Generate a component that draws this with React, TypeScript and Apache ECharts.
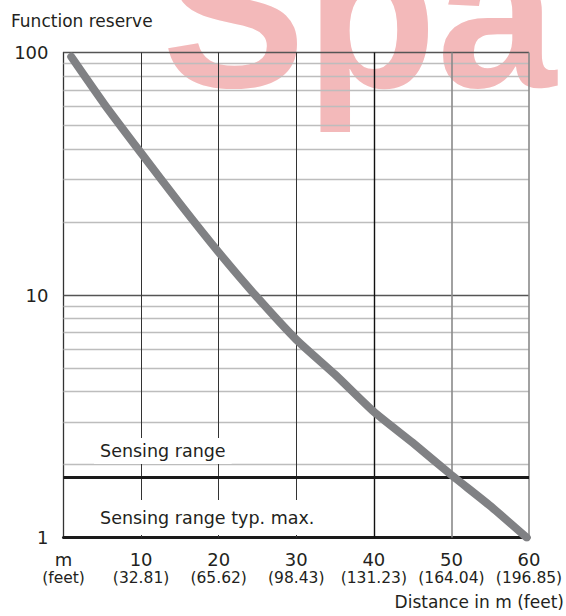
import React, { useEffect, useRef } from "react";
import * as echarts from "echarts";

// ---- data ----
const xTicks = [0, 10, 20, 30, 40, 50, 60];
const xTickMeters = ["m", "10", "20", "30", "40", "50", "60"];
const xTickFeet = ["(feet)", "(32.81)", "(65.62)", "(98.43)", "(131.23)", "(164.04)", "(196.85)"];
const yTicks = [1, 10, 100];
const distanceM = [1.0, 5.3, 10, 15, 20, 24.7, 30, 35, 40, 45, 50, 55, 59.7];
const functionReserve = [96, 61, 38.5, 23.8, 15.0, 10, 6.55, 4.7, 3.3, 2.46, 1.81, 1.35, 1.0];
const minorGridValues = [2, 3, 4, 5, 6, 7, 8, 9, 20, 30, 40, 50, 60, 70, 80, 90];
const sensingRangeLevel = 1.78;
const annotationTexts = ["Sensing range", "Sensing range typ. max."];
const yTitle = "Function reserve";
const xTitle = "Distance in m (feet)";
const watermark = "Spa";

const FONT = "DejaVu Sans";
const INK = "#231f20";

export default function App() {
  const ref = useRef<HTMLDivElement>(null);

  useEffect(() => {
    if (!ref.current) return;
    const chart = echarts.init(ref.current, undefined, { renderer: "svg" });

    const noSym: any = ["none", "none"];
    const vLine = (x: number, color: string, width: number) => ({
      xAxis: x,
      lineStyle: { color, width, type: "solid" },
    });
    const hLine = (y: number, color: string, width: number) => ({
      yAxis: y,
      lineStyle: { color, width, type: "solid" },
    });

    const option: any = {
      animation: false,
      textStyle: { fontFamily: FONT },
      title: [
        {
          text: yTitle,
          left: 11,
          top: 12,
          padding: 0,
          textStyle: { fontSize: 17, fontWeight: "normal", color: INK, fontFamily: FONT },
        },
        {
          text: xTitle,
          right: 2,
          top: 593,
          padding: 0,
          textStyle: { fontSize: 17, fontWeight: "normal", color: INK, fontFamily: FONT },
        },
      ],
      graphic: [
        {
          type: "text",
          z: -10,
          silent: true,
          x: 162,
          y: 12,
          style: {
            text: watermark,
            font: 'bold 215px "Liberation Sans"',
            fill: "#f3b9ba",
            align: "left",
            verticalAlign: "middle",
          },
        },
      ],
      grid: { left: 63.5, right: 37, top: 52.5, bottom: 78.5 },
      xAxis: {
        type: "value",
        min: 0,
        max: 60,
        interval: 10,
        axisLine: { show: true, lineStyle: { color: "#1a1a1a", width: 3 } },
        axisTick: { show: false },
        splitLine: { show: false },
        axisLabel: {
          margin: 12,
          showMinLabel: true,
          showMaxLabel: true,
          color: INK,
          fontFamily: FONT,
          formatter: (v: number) => {
            const i = xTicks.indexOf(v);
            if (i < 0) return "";
            return `{a|${xTickMeters[i]}}\n{b|${xTickFeet[i]}}`;
          },
          rich: {
            a: { fontSize: 18, lineHeight: 19, color: INK, fontFamily: FONT },
            b: { fontSize: 15.5, lineHeight: 19.6, color: INK, fontFamily: FONT },
          },
        },
      },
      yAxis: {
        type: "log",
        logBase: 10,
        min: 1,
        max: 100,
        axisLine: { show: true, lineStyle: { color: "#333", width: 1.3 } },
        axisTick: { show: false },
        splitLine: { show: false },
        minorTick: { show: false },
        minorSplitLine: { show: false },
        axisLabel: {
          margin: 15,
          fontSize: 18,
          color: INK,
          fontFamily: FONT,
          formatter: (v: number) => (yTicks.indexOf(v) >= 0 ? String(v) : ""),
        },
      },
      series: [
        {
          name: "minor",
          type: "line",
          data: [],
          z: 1,
          silent: true,
          markLine: {
            silent: true,
            symbol: noSym,
            label: { show: false },
            data: minorGridValues.map((v) => hLine(v, "#bdbdbd", 1.3)),
          },
        },
        {
          name: "major",
          type: "line",
          data: [],
          z: 2,
          silent: true,
          markLine: {
            silent: true,
            symbol: noSym,
            label: { show: false },
            data: [
              hLine(10, "#555", 1.3),
              hLine(100, "#555", 1.3),
              vLine(10, "#333", 1),
              vLine(20, "#333", 1),
              vLine(30, "#333", 1),
              vLine(40, "#111", 1.4),
              vLine(50, "#8a8a8a", 1.6),
              vLine(60, "#8a8a8a", 1.6),
            ],
          },
        },
        {
          name: "labels",
          type: "line",
          data: [],
          z: 3,
          silent: true,
          markPoint: {
            silent: true,
            symbol: "circle",
            symbolSize: 1,
            itemStyle: { color: "rgba(0,0,0,0)" },
            data: [
              {
                coord: [3.87, 2.274],
                label: {
                  show: true,
                  position: "right",
                  distance: 0,
                  formatter: annotationTexts[0],
                  fontSize: 17.5,
                  lineHeight: 18,
                  fontFamily: FONT,
                  color: INK,
                  backgroundColor: "#fff",
                  padding: [4, 6, 4, 6],
                },
              },
              {
                coord: [3.87, 1.209],
                label: {
                  show: true,
                  position: "right",
                  distance: 0,
                  formatter: annotationTexts[1],
                  fontSize: 17.5,
                  lineHeight: 18,
                  fontFamily: FONT,
                  color: INK,
                  backgroundColor: "#fff",
                  padding: [4, 6, 13, 6],
                },
              },
            ],
          },
        },
        {
          name: "sensing",
          type: "line",
          data: [],
          z: 4,
          silent: true,
          markLine: {
            silent: true,
            symbol: noSym,
            label: { show: false },
            data: [hLine(sensingRangeLevel, "#1a1a1a", 2.8)],
          },
        },
        {
          name: "Function reserve",
          type: "line",
          z: 5,
          data: distanceM.map((d, i) => [d, functionReserve[i]]),
          smooth: 0.2,
          symbol: "none",
          lineStyle: { color: "#808184", width: 8, cap: "round", join: "round" },
        },
      ],
    };

    chart.setOption(option);
    return () => chart.dispose();
  }, []);

  return (
    <div
      ref={ref}
      style={{ position: "absolute", left: 0, top: 0, width: 566, height: 616 }}
    />
  );
}
